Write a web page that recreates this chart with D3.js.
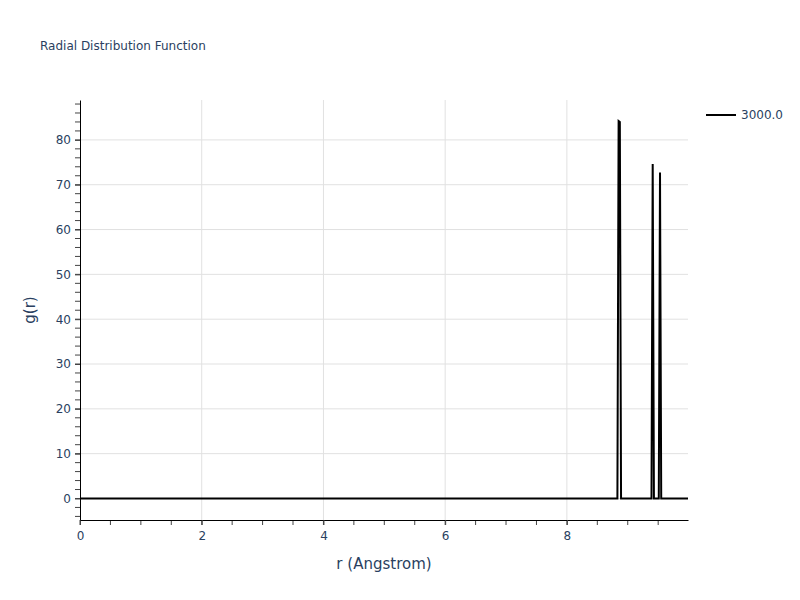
<!DOCTYPE html>
<html>
<head>
<meta charset="utf-8">
<script src="https://cdn.jsdelivr.net/npm/d3@7"></script>
<style>
body { margin: 0; background: #fff; }
text { font-family: "DejaVu Sans", Verdana, sans-serif; fill: #2a3f5f; }
</style>
</head>
<body>
<div id="body"></div>
<script>
// g(r) samples for the single series
var rValues = [0, 8.83, 8.85, 8.87, 8.89, 9.39, 9.41, 9.43, 9.51, 9.53, 9.55, 9.99];
var gValues = [0, 0, 84.2, 84.0, 0, 0, 74.6, 0, 0, 72.7, 0, 0];
var seriesName = "3000.0";
var xTicks = [0, 2, 4, 6, 8];
var yTicks = [0, 10, 20, 30, 40, 50, 60, 70, 80];

const margin = {top: 100, right: 112, bottom: 80, left: 80};
var width = 800 - margin.left - margin.right,
	height = 600 - margin.top - margin.bottom;

var svg = d3.select("#body").append("svg").attr("width", 800).attr("height", 600);
var g = svg.append("g").attr("transform", "translate(" + margin.left + "," + margin.top + ")");

var x = d3.scaleLinear().domain([0, 9.99]).range([0, width]);
var y = d3.scaleLinear().domain([-4.8, 88.9]).range([height, 0]);

// grid lines
g.selectAll(".xgrid").data(xTicks.filter(function(d){ return d > 0; })).enter().append("line")
	.attr("x1", x).attr("x2", x).attr("y1", 0).attr("y2", height)
	.attr("stroke", "#e1e1e1").attr("stroke-width", 1);
g.selectAll(".ygrid").data(yTicks).enter().append("line")
	.attr("x1", 0).attr("x2", width).attr("y1", y).attr("y2", y)
	.attr("stroke", "#e1e1e1").attr("stroke-width", 1);

// minor ticks
var xMinor = d3.range(0, 10, 0.5);
var yMinor = d3.range(-4, 89, 2);
g.selectAll(".xminor").data(xMinor).enter().append("line")
	.attr("x1", x).attr("x2", x).attr("y1", height).attr("y2", height + 5)
	.attr("stroke", "#444").attr("stroke-width", 1);
g.selectAll(".yminor").data(yMinor).enter().append("line")
	.attr("x1", -5).attr("x2", 0).attr("y1", y).attr("y2", y)
	.attr("stroke", "#444").attr("stroke-width", 1);

// axes
var xAxis = g.append("g").attr("transform", "translate(0," + height + ")")
	.call(d3.axisBottom(x).tickValues(xTicks).tickSizeInner(5).tickSizeOuter(0).tickPadding(6));
var yAxis = g.append("g")
	.call(d3.axisLeft(y).tickValues(yTicks).tickSizeInner(5).tickSizeOuter(0).tickPadding(4));
[xAxis, yAxis].forEach(function(a){
	a.select(".domain").attr("stroke", "#000").attr("stroke-width", 1);
	a.selectAll(".tick line").attr("stroke", "#444");
	a.selectAll("text").attr("font-size", 12).attr("fill", "#2a3f5f");
	a.attr("font-family", null);
});

// the curve
var line = d3.line().x(function(d, i){ return x(d); }).y(function(d, i){ return y(gValues[i]); });
g.append("path").datum(rValues)
	.attr("d", line)
	.attr("fill", "none")
	.attr("stroke", "#000")
	.attr("stroke-width", 2);

// titles
svg.append("text").attr("x", 40).attr("y", 50).attr("font-size", 12).text("Radial Distribution Function");
svg.append("text").attr("x", margin.left + width / 2).attr("y", 569).attr("text-anchor", "middle")
	.attr("font-size", 15).text("r (Angstrom)");
svg.append("text").attr("transform", "translate(35," + (margin.top + height / 2) + ") rotate(-90)")
	.attr("text-anchor", "middle").attr("font-size", 15).text("g(r)");

// legend
var legend = svg.append("g").attr("transform", "translate(706,115)");
legend.append("line").attr("x1", 0).attr("x2", 30).attr("y1", 0).attr("y2", 0)
	.attr("stroke", "#000").attr("stroke-width", 2);
legend.append("text").attr("x", 35).attr("y", 4).attr("font-size", 12).text(seriesName);
</script>
</body>
</html>
